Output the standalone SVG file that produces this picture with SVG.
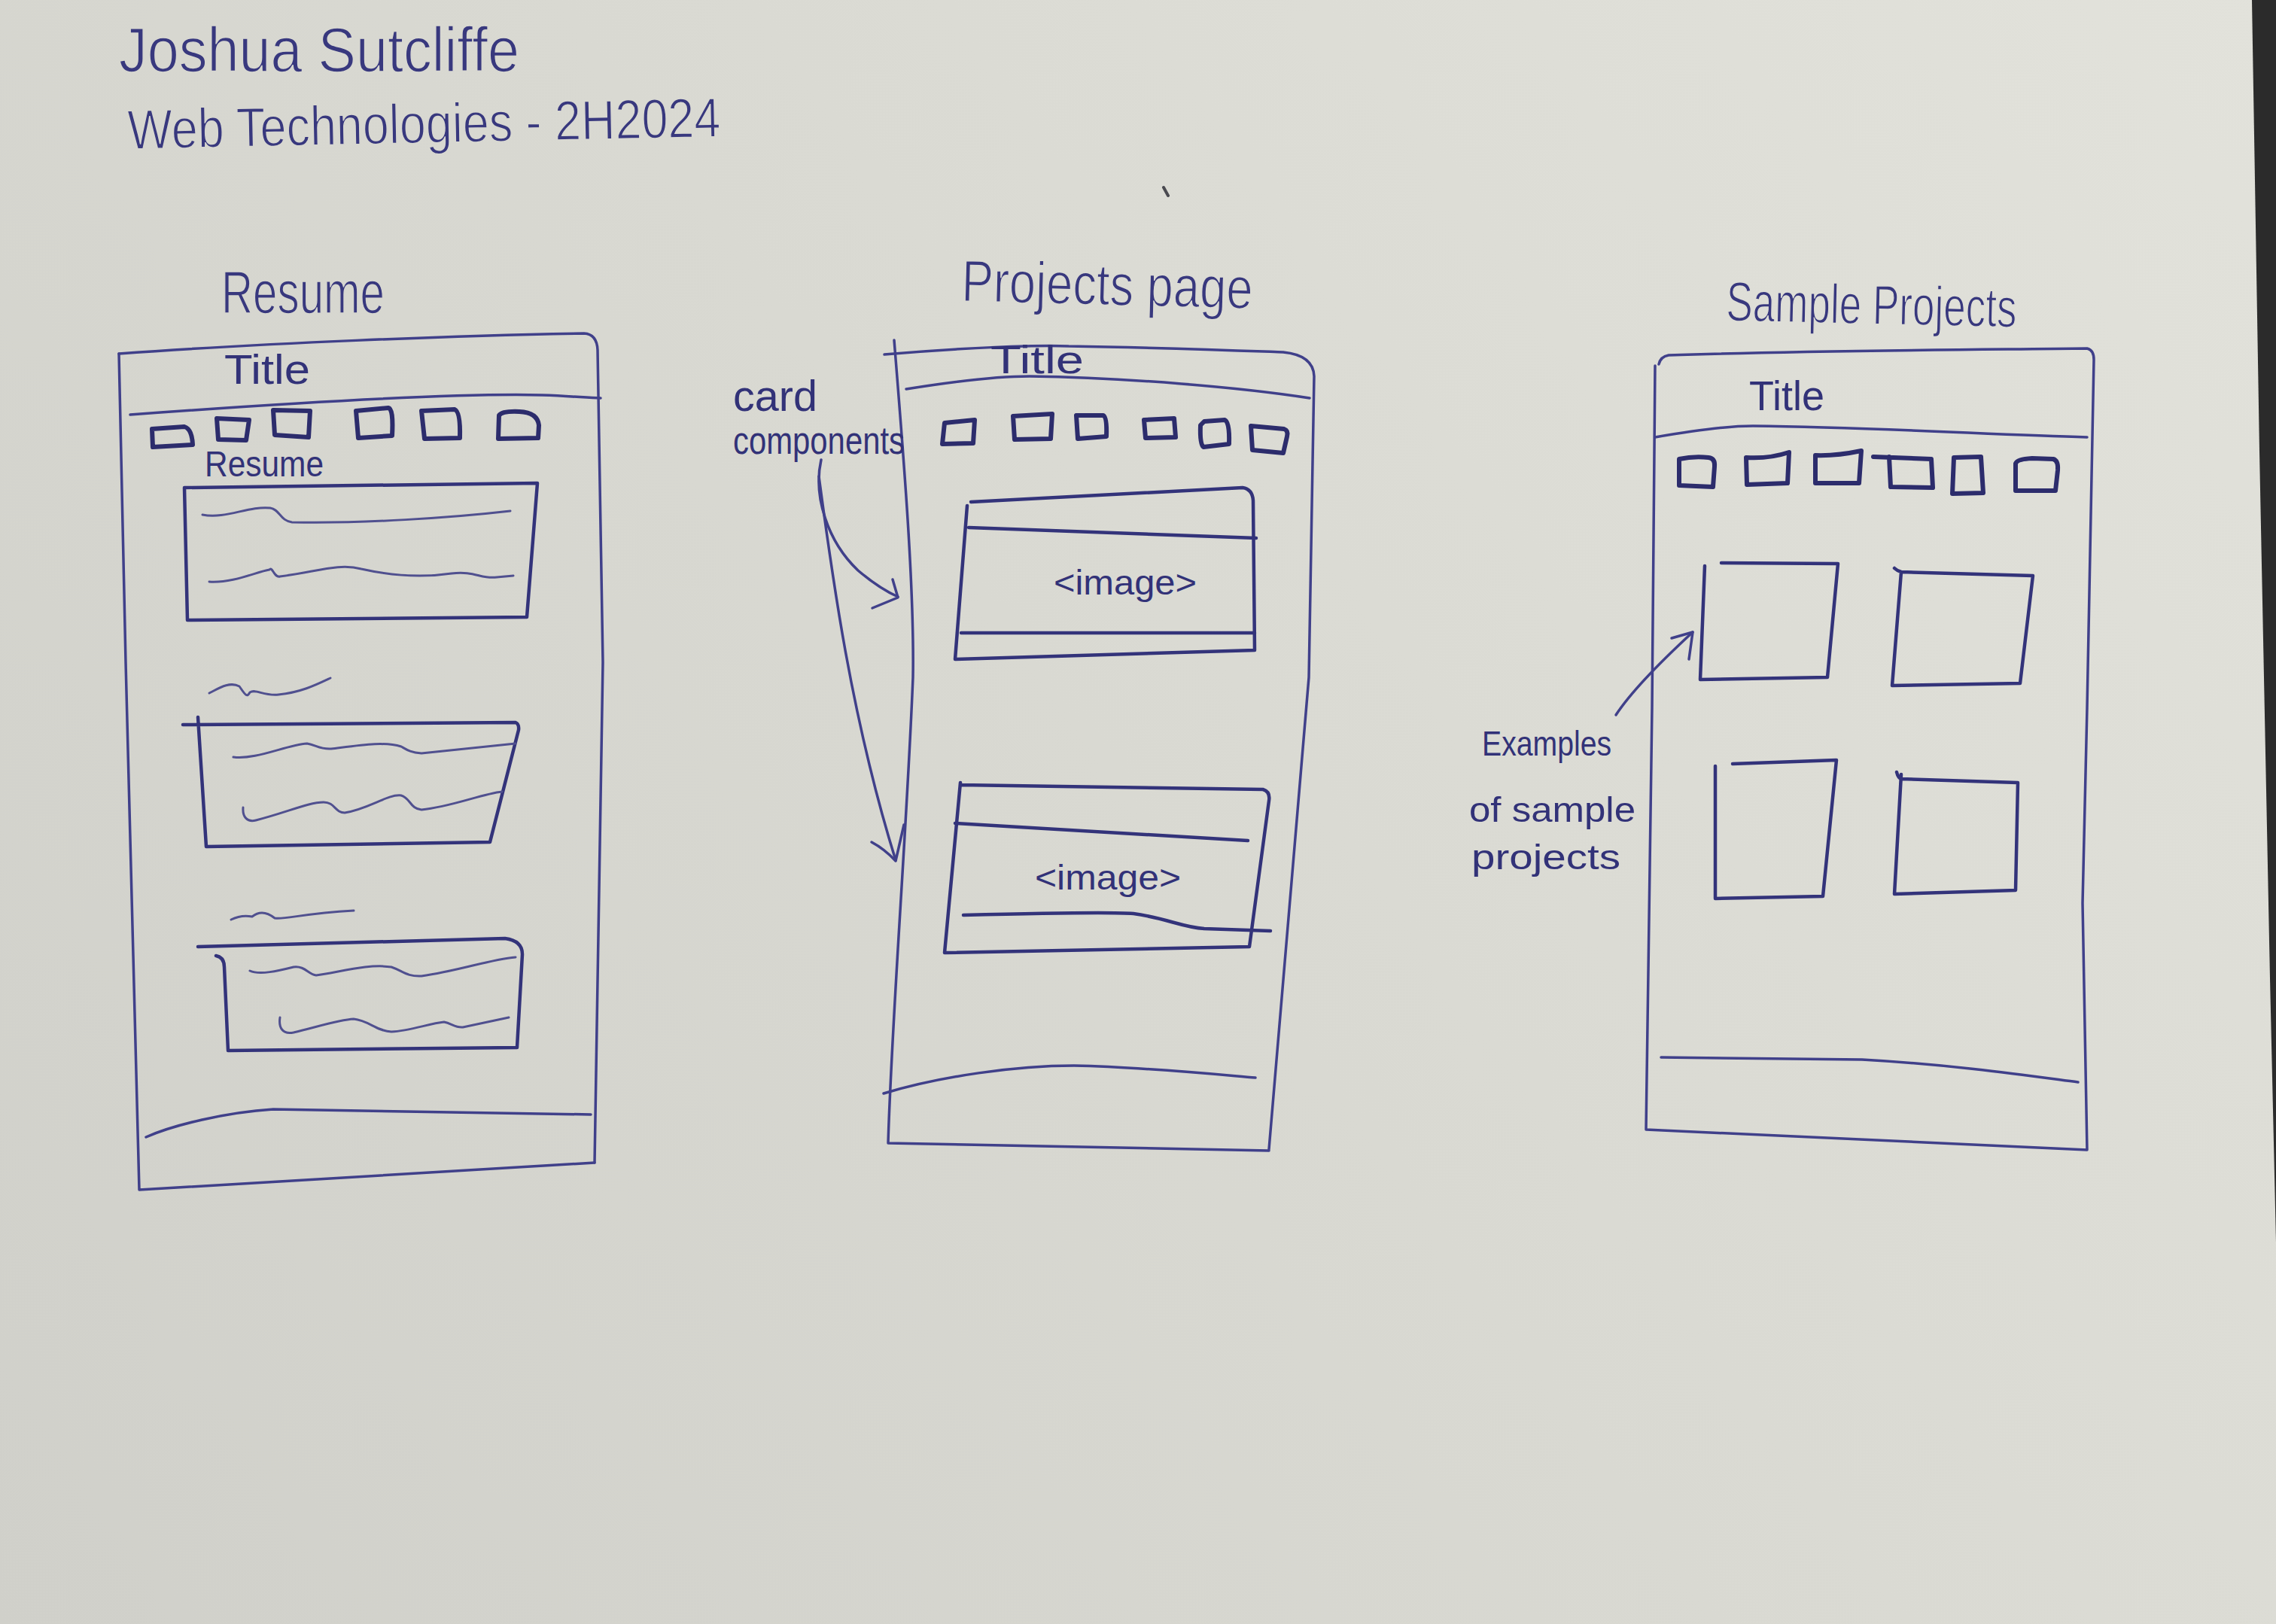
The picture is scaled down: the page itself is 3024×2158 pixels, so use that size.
<svg xmlns="http://www.w3.org/2000/svg" width="3024" height="2158" viewBox="0 0 3024 2158">
  <defs>
    <linearGradient id="paper" gradientUnits="userSpaceOnUse" x1="3024" y1="0" x2="0" y2="2158">
      <stop offset="0" stop-color="#e2e2db"/>
      <stop offset="0.5" stop-color="#d9d9d2"/>
      <stop offset="1" stop-color="#d0d0ca"/>
    </linearGradient>
    <style>
      .ink { fill: none; stroke: #40408a; stroke-width: 3.5; stroke-linecap: round; stroke-linejoin: round; }
      .firm { stroke: #33337a; stroke-width: 4.5; }
      .bold { stroke: #2c2c6c; stroke-width: 6; }
      .scrib { stroke: #50508f; stroke-width: 3; }
      .hand { font-family: "Liberation Sans", Arial, sans-serif; fill: #38387e; stroke: url(#paper); stroke-width: 1.6; }
      .small { fill: #323278; stroke: none; }
      .head { font-size: 80px; }
    </style>
  </defs>

  <!-- sheet of paper and the desk edge on the right -->
  <rect x="0" y="0" width="3024" height="2158" fill="url(#paper)"/>
  <polygon points="2992,0 3024,0 3024,1650 3016,1300 3002,600" fill="#2b2b2b"/>
  <path d="M1546,249 L1552,260" stroke="#4a4a50" stroke-width="4" stroke-linecap="round"/>

  <!-- author and course -->
  <g id="author">
    <text class="hand" x="158" y="95" font-size="84" textLength="532" lengthAdjust="spacingAndGlyphs">Joshua Sutcliffe</text>
    <text class="hand" x="170" y="198" font-size="74" textLength="788" lengthAdjust="spacingAndGlyphs" transform="rotate(-1.2 170 198)">Web Technologies - 2H2024</text>
  </g>

  <!-- Resume page wireframe -->
  <g id="resume">
    <text class="hand head" x="294" y="416" textLength="217" lengthAdjust="spacingAndGlyphs">Resume</text>
    <path class="ink" d="M158,470 C350,456 600,446 776,443 Q793,444 794,465 L801,880 L790,1545"/>
    <path class="ink" d="M158,470 L167,880 L185,1581 L790,1545"/>
    <path class="ink" d="M173,551 C350,538 600,522 720,525 C760,526 780,529 798,529"/>
    <text class="hand small" x="298" y="510" font-size="56" textLength="114" lengthAdjust="spacingAndGlyphs">Title</text>
    <g class="ink bold">
      <path d="M202,570 L245,567 Q255,570 256,591 L203,594 Z"/>
      <path d="M288,556 L331,558 L327,585 L290,584 Z"/>
      <path d="M363,545 L365,578 L410,581 L412,546 Z"/>
      <path d="M473,546 L516,542 Q523,543 521,579 L476,582 Z"/>
      <path d="M560,546 L604,544 Q612,547 611,582 L564,583 Z"/>
      <path d="M662,583 L663,552 Q667,546 690,547 Q714,548 716,565 L715,582 Z"/>
    </g>
    <text class="hand small" x="272" y="633" font-size="48" textLength="158" lengthAdjust="spacingAndGlyphs">Resume</text>
    <!-- section 1 -->
    <path class="ink firm" d="M245,648 L714,642 L700,820 L249,824 Z"/>
    <path class="ink scrib" d="M269,684 C300,690 330,672 359,675 C372,677 372,692 388,694 C480,696 600,688 678,679"/>
    <path class="ink scrib" d="M278,773 C310,775 340,760 358,757 C362,752 364,768 372,766 C420,760 450,748 480,756 C520,765 560,768 600,762 C630,758 640,770 660,767 L682,765"/>
    <!-- section 2 -->
    <path class="ink scrib" d="M278,921 C290,915 305,905 318,912 C325,922 328,928 332,920 C340,915 350,925 370,923 C400,920 420,910 439,901"/>
    <path class="ink firm" d="M243,963 L685,960 Q690,962 689,970 L651,1119 L274,1125 M263,953 L274,1125"/>
    <path class="ink scrib" d="M310,1006 C340,1010 380,990 408,988 C420,990 425,996 440,995 C480,990 510,985 533,992 C540,996 545,1000 560,1001 L685,988"/>
    <path class="ink scrib" d="M323,1073 C322,1085 328,1093 340,1090 C380,1080 410,1066 430,1066 C445,1066 445,1080 458,1080 C490,1075 515,1055 533,1057 C545,1060 545,1075 560,1076 C600,1072 640,1055 667,1052"/>
    <!-- section 3 -->
    <path class="ink scrib" d="M307,1222 C315,1218 325,1216 335,1218 C345,1210 355,1212 365,1220 C380,1222 400,1214 470,1210"/>
    <path class="ink firm" d="M263,1258 L671,1247 Q694,1250 694,1268 L687,1392 L303,1396 M287,1270 Q298,1272 298,1285 L303,1396"/>
    <path class="ink scrib" d="M332,1290 C345,1296 370,1290 390,1285 C405,1283 410,1295 420,1296 C450,1292 490,1280 520,1285 C535,1290 540,1298 560,1297 C610,1290 650,1275 685,1272"/>
    <path class="ink scrib" d="M372,1352 C370,1365 375,1375 390,1372 C420,1365 450,1355 470,1354 C490,1356 500,1370 520,1371 C545,1370 570,1360 590,1358 C600,1360 605,1366 615,1365 L676,1352"/>
    <!-- footer -->
    <path class="ink" d="M194,1511 C230,1495 300,1478 363,1474 L785,1481"/>
  </g>

  <!-- Projects page wireframe -->
  <g id="projects-page">
    <text class="hand" x="1277" y="400" font-size="78" textLength="387" lengthAdjust="spacingAndGlyphs" transform="rotate(1.5 1277 400)">Projects page</text>
    <path class="ink" d="M1188,452 C1200,600 1215,780 1213,900 C1205,1100 1185,1350 1180,1519 L1686,1529"/>
    <path class="ink" d="M1175,471 C1280,462 1380,458 1420,460 C1550,462 1650,466 1705,468 Q1745,472 1746,500 L1739,900 L1686,1527"/>
    <path class="ink" d="M1204,517 C1260,508 1320,500 1368,500 C1500,502 1650,515 1740,529"/>
    <text class="hand small" x="1316" y="496" font-size="52" textLength="124" lengthAdjust="spacingAndGlyphs">Title</text>
    <g class="ink bold">
      <path d="M1255,562 L1295,558 L1293,589 L1252,590 Z"/>
      <path d="M1346,553 L1348,584 L1396,583 L1398,550 Z"/>
      <path d="M1430,552 L1466,552 Q1471,555 1470,580 L1432,583 Z"/>
      <path d="M1520,558 L1560,556 L1562,581 L1522,582 Z"/>
      <path d="M1600,560 L1627,558 Q1634,560 1633,590 L1599,594 Q1594,590 1595,565 Z"/>
      <path d="M1662,566 L1706,570 Q1712,572 1710,580 L1705,602 L1664,598 Z"/>
    </g>
    <!-- card 1 -->
    <path class="ink firm" d="M1290,667 L1651,648 Q1664,650 1665,665 L1667,864 L1269,876 L1285,672"/>
    <path class="ink firm" d="M1287,701 L1669,715 M1277,841 L1667,841"/>
    <text class="hand small" x="1400" y="790" font-size="46" textLength="190" lengthAdjust="spacingAndGlyphs">&lt;image&gt;</text>
    <!-- card 2 -->
    <path class="ink firm" d="M1276,1043 L1678,1049 Q1688,1052 1686,1064 L1660,1258 L1255,1266 L1276,1040"/>
    <path class="ink firm" d="M1269,1094 L1658,1117 M1280,1216 C1400,1213 1480,1212 1506,1214 C1550,1220 1570,1232 1600,1234 L1688,1237"/>
    <text class="hand small" x="1375" y="1182" font-size="46" textLength="194" lengthAdjust="spacingAndGlyphs">&lt;image&gt;</text>
    <!-- footer -->
    <path class="ink" d="M1174,1453 C1250,1430 1350,1416 1427,1416 C1520,1418 1620,1428 1668,1432"/>
  </g>

  <!-- Sample Projects wireframe -->
  <g id="sample-projects">
    <text class="hand" x="2293" y="426" font-size="74" textLength="386" lengthAdjust="spacingAndGlyphs" transform="rotate(1.3 2293 426)">Sample Projects</text>
    <path class="ink" d="M2204,484 Q2206,474 2217,472 C2400,466 2600,465 2773,463 Q2782,465 2782,478 L2773,941 L2767,1200 L2773,1528 L2187,1501 L2195,941 L2199,486"/>
    <path class="ink" d="M2199,581 C2250,572 2300,566 2329,566 C2500,568 2650,578 2773,581"/>
    <text class="hand small" x="2324" y="545" font-size="56" textLength="100" lengthAdjust="spacingAndGlyphs">Title</text>
    <g class="ink bold">
      <path d="M2231,610 Q2250,606 2270,608 Q2279,609 2278,620 L2276,647 L2231,645 Z"/>
      <path d="M2320,608 L2321,644 L2375,642 L2377,601 Q2350,610 2320,608 Z"/>
      <path d="M2412,605 L2412,642 L2470,642 L2473,599 Q2440,606 2412,605 Z"/>
      <path d="M2489,607 L2566,610 L2568,648 L2512,647 L2510,607"/>
      <path d="M2596,608 L2632,607 L2635,655 L2594,656 Z"/>
      <path d="M2678,652 L2678,616 Q2680,610 2700,609 L2728,610 Q2735,612 2734,625 L2731,652 Z"/>
    </g>
    <path class="ink firm" d="M2287,748 L2442,749 L2428,900 L2259,903 L2265,752"/>
    <path class="ink firm" d="M2517,755 Q2520,758 2526,760 L2701,765 L2684,908 L2514,911 L2526,760"/>
    <path class="ink firm" d="M2302,1015 L2440,1010 L2422,1191 L2279,1194 L2279,1018"/>
    <path class="ink firm" d="M2520,1026 Q2522,1034 2526,1035 L2681,1040 L2678,1183 L2517,1188 L2526,1029"/>
    <path class="ink" d="M2207,1405 L2474,1408 C2600,1415 2700,1430 2761,1438"/>
  </g>

  <!-- annotations -->
  <g id="note-cards">
    <text class="hand small" x="974" y="546" font-size="58" textLength="112" lengthAdjust="spacingAndGlyphs">card</text>
    <text class="hand small" x="974" y="603" font-size="52" textLength="228" lengthAdjust="spacingAndGlyphs">components</text>
  </g>
  <g id="note-samples">
    <text class="hand small" x="1969" y="1004" font-size="46" textLength="172" lengthAdjust="spacingAndGlyphs">Examples</text>
    <text class="hand small" x="1952" y="1092" font-size="46" textLength="221" lengthAdjust="spacingAndGlyphs">of sample</text>
    <text class="hand small" x="1955" y="1155" font-size="46" textLength="198" lengthAdjust="spacingAndGlyphs">projects</text>
  </g>

  <!-- connectors -->
  <g id="connectors" class="ink">
    <path d="M1091,611 C1080,660 1100,720 1140,758 C1160,775 1175,785 1193,793"/>
    <path d="M1159,808 L1193,794 L1186,770"/>
    <path d="M1088,633 C1105,760 1130,950 1190,1143"/>
    <path d="M1158,1119 Q1175,1128 1190,1144 L1201,1096"/>
    <path d="M2147,950 C2170,915 2210,876 2249,840"/>
    <path d="M2221,848 L2249,840 L2244,876"/>
  </g>
</svg>
